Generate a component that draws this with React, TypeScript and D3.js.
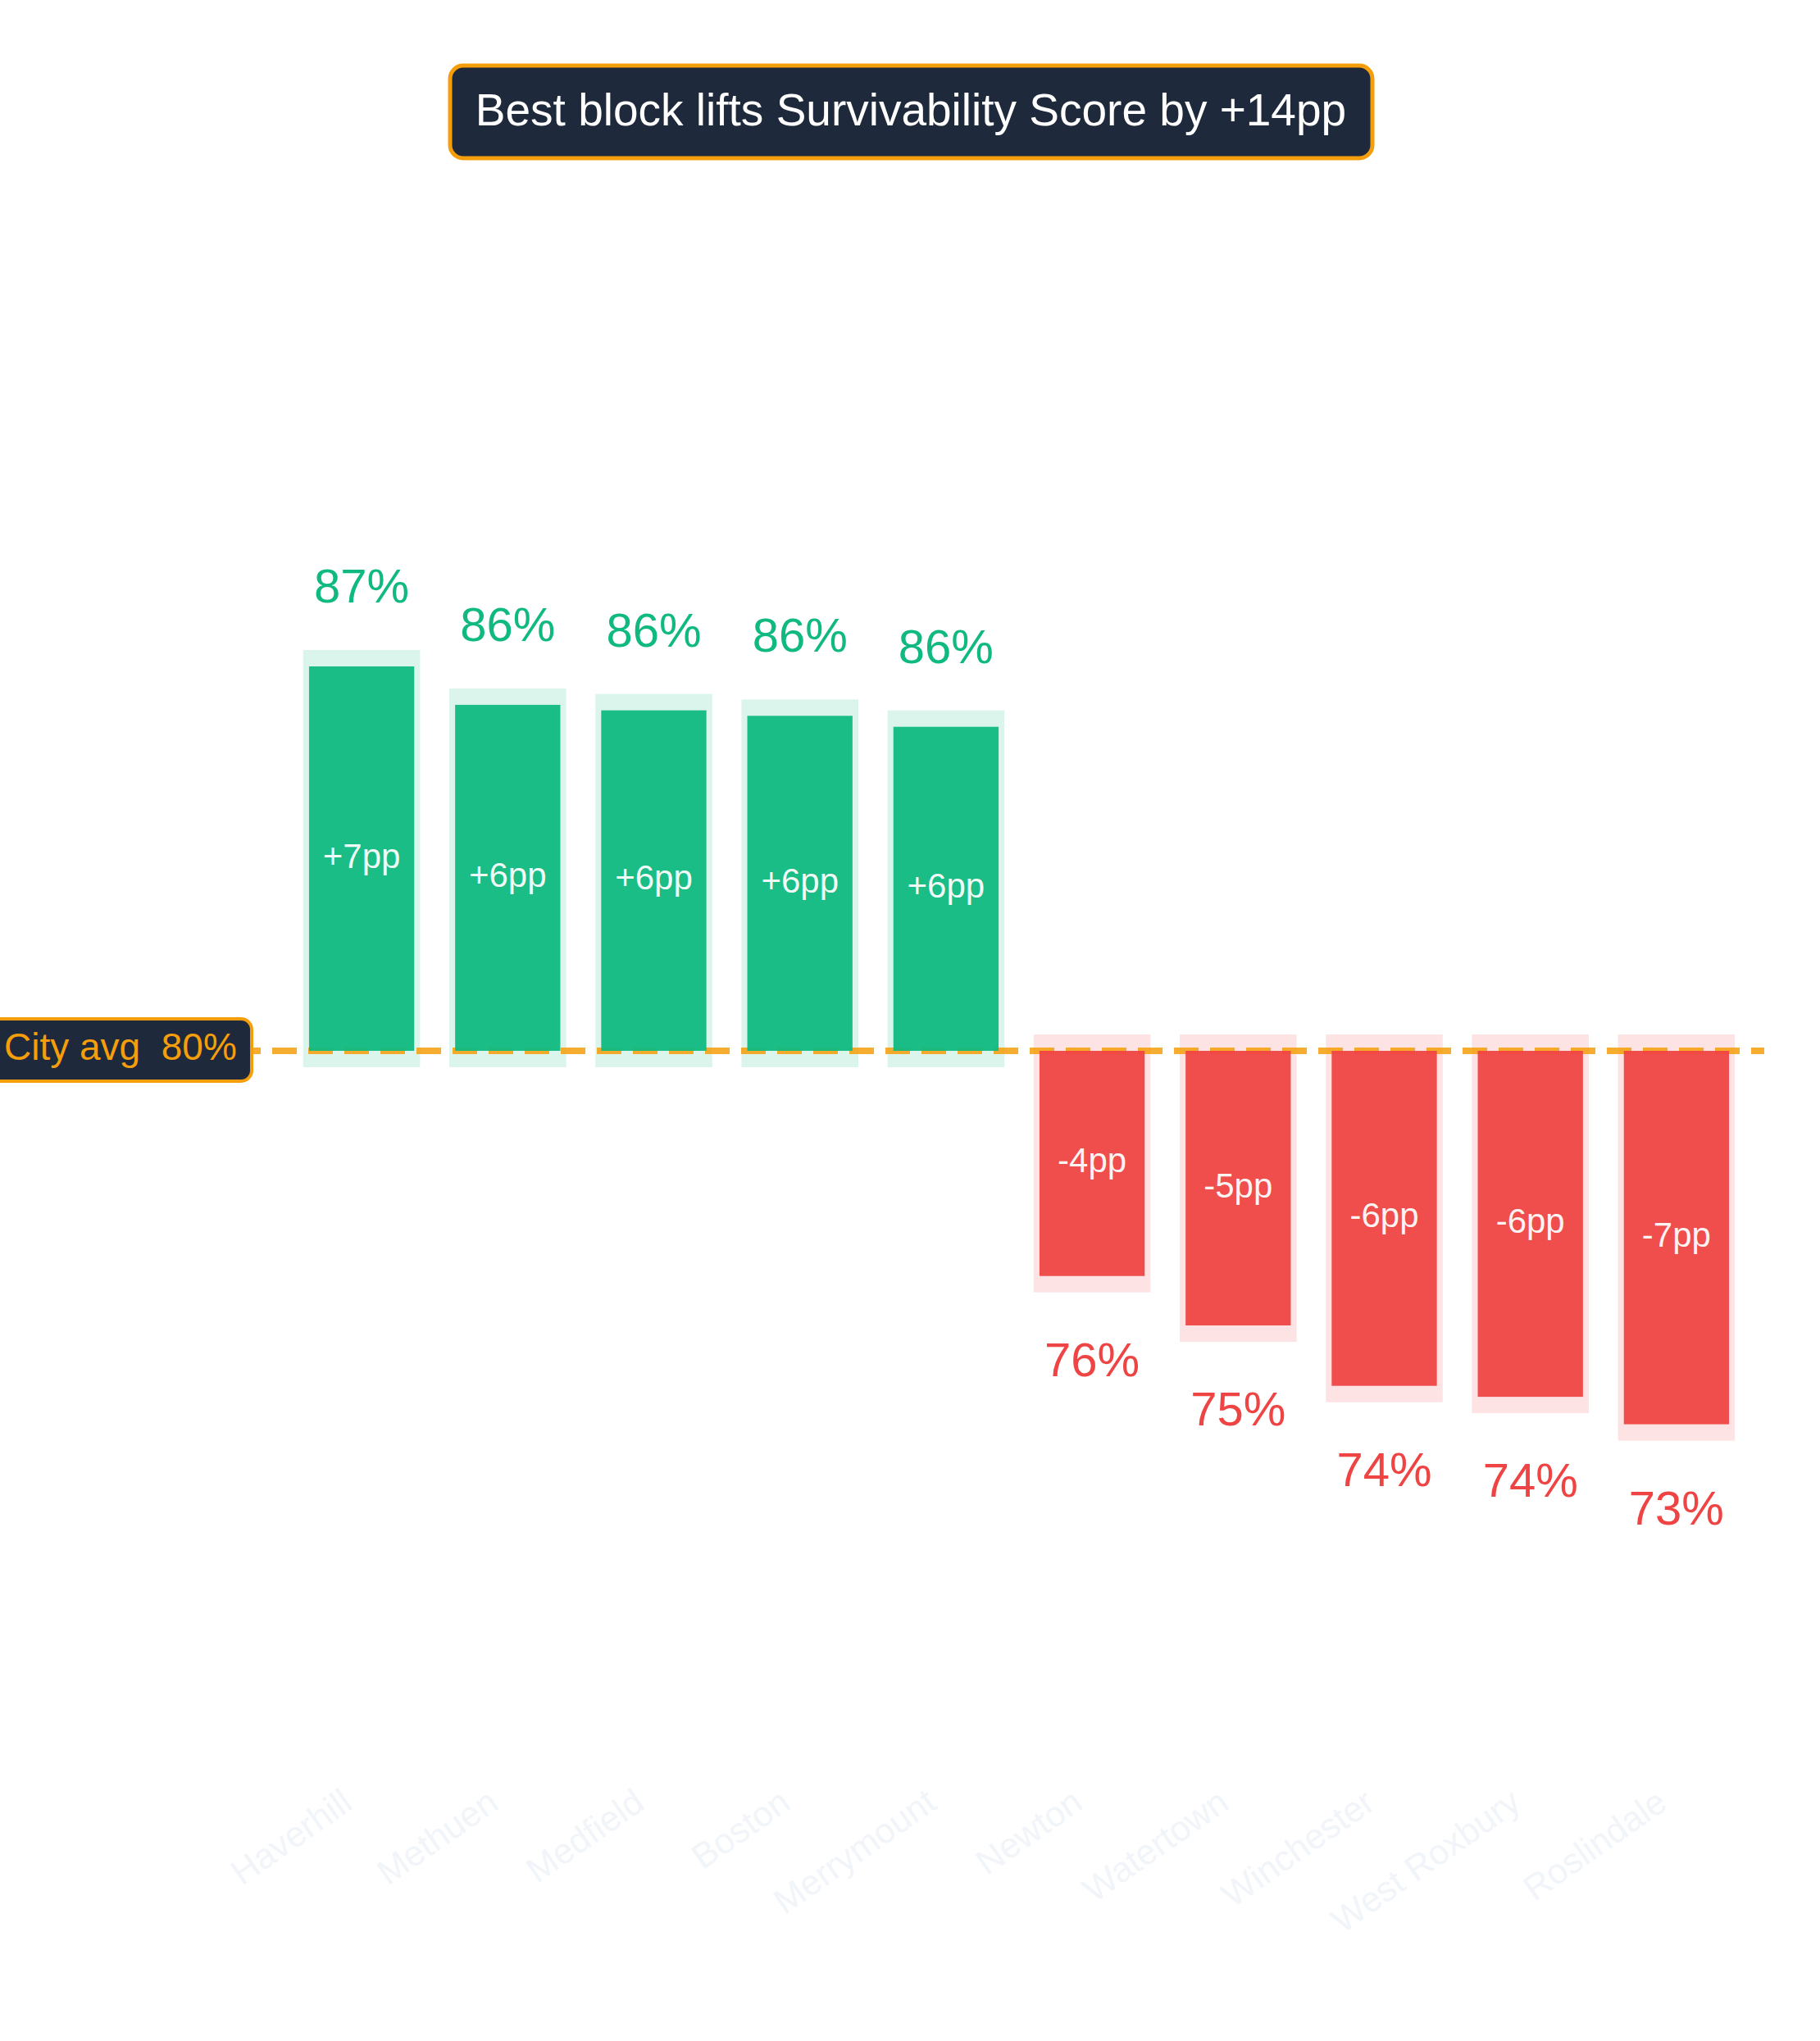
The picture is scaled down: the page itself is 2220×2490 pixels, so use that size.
import * as d3 from 'd3';
import React from 'react';

// neighbourhoods, best to worst
const blocks = ['Haverhill', 'Methuen', 'Medfield', 'Boston', 'Merrymount', 'Newton', 'Watertown', 'Winchester', 'West Roxbury', 'Roslindale'];
const scores = [87.0, 86.3, 86.2, 86.1, 85.9, 75.9, 75.0, 73.9, 73.7, 73.2];
const cityAvg = 80;
const titleText = 'Best block lifts Survivability Score by +14pp';

const W = 2220;
const H = 2490;
const FONT = '"Liberation Sans", Arial, Helvetica, sans-serif';
const GREEN = '#10b981';
const RED = '#ef4444';
const ORANGE = '#f59e0b';
const NAVY = '#1e293b';

export default function App() {
  const x = d3.scaleBand<string>()
    .domain(blocks)
    .range([352, 2134])
    .padding(0);

  const y = d3.scaleLinear()
    .domain([70, 90])
    .range([1952, 612]);

  const step = x.bandwidth();
  const barW = step * 0.72;
  const bgW = step * 0.8;
  const base = y(cityAvg);

  return (
    <svg width={W} height={H} style={{ position: 'absolute', left: 0, top: 0, background: '#fff' }} fontFamily={FONT}>
      {/* pale halo behind each bar */}
      {blocks.map((b, i) => {
        const v = scores[i];
        const cx = x(b)! + step / 2;
        const up = v >= cityAvg;
        const top = Math.min(y(v), base) - 20;
        const bot = Math.max(y(v), base) + 20;
        return (
          <rect key={'bg' + b} x={cx - bgW / 2} y={top} width={bgW} height={bot - top}
            fill={up ? GREEN : RED} fillOpacity={0.15} />
        );
      })}

      {/* city average reference */}
      <line x1={24} x2={2152} y1={base} y2={base} stroke={ORANGE} strokeOpacity={0.85}
        strokeWidth={8} strokeDasharray="30 14" />

      {blocks.map((b, i) => {
        const v = scores[i];
        const cx = x(b)! + step / 2;
        const up = v >= cityAvg;
        const top = Math.min(y(v), base);
        const bot = Math.max(y(v), base);
        const d = Math.round(v - cityAvg);
        return (
          <g key={b}>
            <rect x={cx - barW / 2} y={top} width={barW} height={bot - top}
              fill={up ? GREEN : RED} fillOpacity={0.95} />
            <text x={cx} y={(top + bot) / 2} textAnchor="middle" dominantBaseline="middle"
              fontSize={42} fill="#fff" fillOpacity={0.95}>
              {(d > 0 ? '+' : '-') + Math.abs(d) + 'pp'}
            </text>
            <text x={cx} y={up ? top - 78 : bot + 122} textAnchor="middle" fontSize={58}
              fill={up ? GREEN : RED}>
              {Math.round(v) + '%'}
            </text>
            <text transform={`translate(${cx - 9},2205) rotate(-35)`} textAnchor="end"
              fontSize={43} fill="#f1f5f9">
              {b}
            </text>
          </g>
        );
      })}

      {/* city avg tag */}
      <rect x={-20} y={1243} width={327} height={76} rx={13} fill={NAVY} stroke={ORANGE} strokeWidth={4} />
      <text x={5} y={1293} textAnchor="start" fontSize={46} fill={ORANGE} style={{ whiteSpace: 'pre' }}>
        {'City avg  ' + cityAvg + '%'}
      </text>

      {/* headline */}
      <rect x={549} y={80} width={1125} height={113} rx={16} fill={NAVY} stroke={ORANGE} strokeWidth={5} />
      <text x={1111} y={153} textAnchor="middle" fontSize={55} fill="#fff">{titleText}</text>
    </svg>
  );
}
